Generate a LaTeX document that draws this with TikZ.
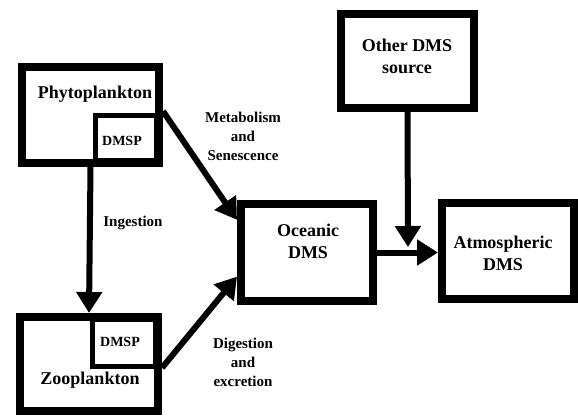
\documentclass[tikz,border=0pt]{standalone}
\usepackage{fontspec}
\setmainfont{Liberation Serif}
\usetikzlibrary{arrows.meta}

\begin{document}
\begin{tikzpicture}[x=1pt,y=-1pt,
  box/.style={draw,line width=8pt,inner sep=0pt},
  subbox/.style={draw,line width=5pt,inner sep=0pt},
  arr/.style={line width=6pt,-{Triangle[length=21pt,width=25pt]}},
  boxtext/.style={font=\fontsize{18}{22}\selectfont\bfseries,align=center,inner sep=0pt},
  smalltext/.style={font=\fontsize{14}{16}\selectfont\bfseries,inner sep=0pt},
  flowtext/.style={font=\fontsize{15}{19}\selectfont\bfseries,align=center,inner sep=0pt}]
\useasboundingbox (0,0) rectangle (578,416);
\node[box,minimum width=137pt,minimum height=96pt] (phyto) at (90.5,115) {};
\node[subbox,anchor=south east,minimum width=61pt,minimum height=45pt] (phytosub) at ([xshift=-4pt,yshift=4pt]phyto.south east) {};
\node[boxtext] (phytoname) at (95,94) {Phytoplankton};
\node[smalltext] (phytodmsp) at (122,141) {DMSP};
\node[box,minimum width=138pt,minimum height=94pt] (zoo) at (89,364) {};
\node[subbox,anchor=north east,minimum width=63pt,minimum height=47pt] (zoosub) at ([xshift=-4pt,yshift=-4pt]zoo.north east) {};
\node[boxtext] (zooname) at (90,380) {Zooplankton};
\node[smalltext] (zoodmsp) at (120,342) {DMSP};
\node[box,minimum width=133pt,minimum height=94pt] (other) at (407.5,61) {};
\node[boxtext] (othername) at (407,56) {Other DMS\\source};
\node[box,minimum width=132pt,minimum height=97pt] (ocean) at (307,252.5) {};
\node[boxtext] (oceanname) at (308,241.5) {Oceanic\\DMS};
\node[box,minimum width=132pt,minimum height=96pt] (atmos) at (508,251) {};
\node[boxtext] (atmosname) at (503,253) {Atmospheric\\DMS};
\coordinate (join) at (408,247);
\draw[arr] (phyto.south) -- (zoo.north);
\draw[arr] (phyto.3) -- (ocean.155);
\draw[arr] (zoo.-3) -- (ocean.199);
\draw[arr] (ocean.east) -- (ocean.east -| atmos.west);
\draw[arr] (other.south) -- (join);
\node[flowtext] (ingest) at (133,223) {Ingestion};
\node[flowtext] (metab) at (243,136) {Metabolism\\and\\Senescence};
\node[flowtext] (digest) at (243,362) {Digestion\\and\\excretion};
\end{tikzpicture}
\end{document}
